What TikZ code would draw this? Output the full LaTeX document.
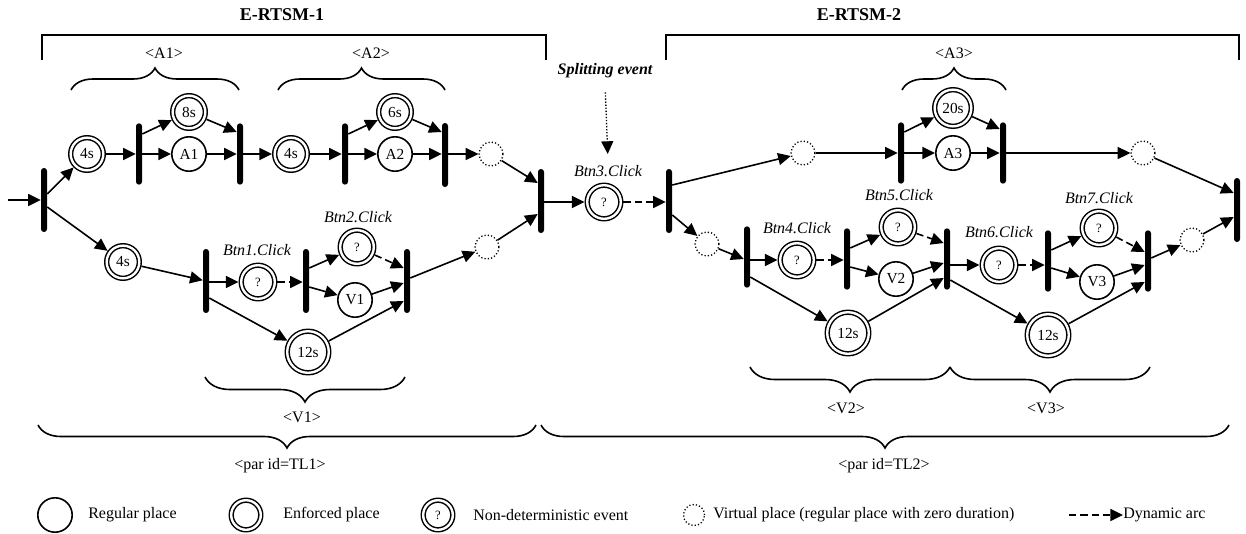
\documentclass[tikz,border=0pt]{standalone}
\usepackage{fontspec}
\setmainfont{Liberation Serif}
\usetikzlibrary{arrows.meta,decorations.pathreplacing,calc}
\begin{document}
\begin{tikzpicture}[x=0.75pt,y=-0.75pt,
  every node/.style={font=\fontsize{12}{14}\selectfont},
  regp/.style={circle,draw,line width=1.2pt,inner sep=0pt,minimum size=25.8pt,font=\fontsize{11.5}{13}\selectfont},
  enf/.style={circle,draw,line width=1.1pt,double,double distance=1.8pt,inner sep=0pt,outer sep=2pt,minimum size=24.5pt,font=\fontsize{11.5}{13}\selectfont},
  qst/.style={enf,minimum size=25.2pt,font=\fontsize{9.5}{11}\selectfont},
  big/.style={minimum size=31.2pt},
  virt/.style={circle,draw,line width=1pt,dash pattern=on 0.9pt off 1.6pt,inner sep=0pt,minimum size=17.9pt},
  tbar/.style={rectangle,fill,inner sep=0pt,minimum width=4.5pt,minimum height=46pt,rounded corners=2.2pt},
  tall/.style={minimum height=48pt},
  flow/.style={line width=1.2pt,-{Triangle[length=9.5pt,width=9pt]}},
  dyn/.style={flow,dash pattern=on 5.5pt off 3pt},
  brc/.style={decorate,decoration={brace,amplitude=#1},line width=1.2pt},
  lbl/.style={font=\fontsize{12}{14}\selectfont\itshape},
  ttl/.style={font=\fontsize{13.5}{16}\selectfont\bfseries},
  legt/.style={anchor=west,inner sep=0pt},
]
\useasboundingbox (0,0) rectangle (1246,533);

% titles and brackets
\node[ttl] (h1) at (282,15) {E-RTSM-1};
\node[ttl] (h2) at (859,15) {E-RTSM-2};
\draw[line width=1.2pt] (42,60) -- (42,35) -- (546,35) -- (546,60);
\draw[line width=1.2pt] (666,60) -- (666,35) -- (1239,35) -- (1239,60);

% braces
\draw[brc=16.5pt] (71,90) -- (239,90);
\draw[brc=16.5pt] (278,90) -- (445,90);
\draw[brc=16.5pt] (902,90) -- (1006,90);
\node (la1) at (164,53) {<A1>};
\node (la2) at (371,53) {<A2>};
\node (la3) at (954,53) {<A3>};
\draw[brc=18.75pt] (405,377) -- (205,377);
\draw[brc=18.75pt] (950,367) -- (750,367);
\draw[brc=18.75pt] (1150,367) -- (950,367);
\node (lv1) at (302,417) {<V1>};
\node (lv2) at (846,408) {<V2>};
\node (lv3) at (1046,408) {<V3>};
\draw[brc=17.25pt] (536,425) -- (38,425);
\draw[brc=17.25pt] (1229,425) -- (541,425);
\node (ltl1) at (280,466) {<par id=TL1>};
\node (ltl2) at (884,466) {<par id=TL2>};

% ---------- E-RTSM-1 ----------
\coordinate (start) at (8,200);
\node[tbar,tall] (t0) at (44,200) {};
\node[enf] (p1) at (87,154) {4s};
\node[tbar] (t1) at (139,154) {};
\node[enf] (p2) at (189,112) {8s};
\node[regp] (a1) at (189,154) {A1};
\node[tbar] (t2) at (240,154) {};
\node[enf] (p3) at (291,154) {4s};
\node[tbar] (t3) at (345,154) {};
\node[enf] (p4) at (395,112) {6s};
\node[regp] (a2) at (395,154) {A2};
\node[tbar,tall] (t4) at (445,155) {};
\node[virt] (v1) at (491,154) {};
\node[tbar,tall] (t5) at (541,201) {};

\node[enf] (p5) at (123,262) {4s};
\node[tbar,tall] (tl1) at (206,281) {};
\node[qst] (b1) at (258,282) {?};
\node[tbar,tall] (tl2) at (306,281) {};
\node[qst] (b2) at (357,247) {?};
\node[regp] (vv1) at (355,300) {V1};
\node[tbar,tall] (tl3) at (407,281) {};
\node[enf,big] (p6) at (308,352) {12s};
\node[virt] (v2) at (487,247) {};

\node[lbl] (l1) at (257,250) {Btn1.Click};
\node[lbl] (l2) at (358,217) {Btn2.Click};

\draw[flow] (start) -- (t0);
\draw[flow] (t0.east|-0,194) -- (p1);
\draw[flow] (t0.east|-0,207) -- (p5);
\draw[flow] (p1) -- (t1);
\draw[flow] (t1.east|-0,134) -- (p2);
\draw[flow] (t1) -- (a1);
\draw[flow] (p2) -- (t2.west|-0,132);
\draw[flow] (a1) -- (t2);
\draw[flow] (t2) -- (p3);
\draw[flow] (p3) -- (t3);
\draw[flow] (t3.east|-0,134) -- (p4);
\draw[flow] (t3) -- (a2);
\draw[flow] (p4) -- (t4.west|-0,132);
\draw[flow] (a2) -- (t4.west|-a2);
\draw[flow] (t4.east|-v1) -- (v1);
\draw[flow] (v1) -- (t5.west|-0,183);

\draw[flow] (p5) -- (tl1);
\draw[flow] (tl1.east|-b1) -- (b1);
\draw[flow] (tl1.east|-0,298) -- (p6);
\draw[dyn] (b1) -- (tl2.west|-b1);
\draw[flow] (tl2.east|-0,268) -- (b2);
\draw[flow] (tl2.east|-0,287) -- (vv1);
\draw[dyn] (b2) -- (tl3.west|-0,268);
\draw[flow] (vv1) -- (tl3.west|-0,283);
\draw[flow] (p6) -- (tl3.west|-0,301);
\draw[flow] (tl3.east|-0,278) -- (v2);
\draw[flow] (v2) -- (t5.west|-0,214);

% ---------- splitting event ----------
\node[qst] (b3) at (604,202) {?};
\node[lbl] (l3) at (608,171) {Btn3.Click};
\node[font=\fontsize{12}{14}\selectfont\bfseries\itshape] (split) at (605,71) {Splitting event};
\draw[line width=1pt,dash pattern=on 1pt off 1.3pt,-{Triangle[length=9.5pt,width=9pt]},shorten <=7pt,shorten >=5pt] (split.south) -- (l3.north);
\node[tbar,tall] (t6) at (669,201) {};
\draw[flow] (t5.east|-b3) -- (b3);
\draw[dyn] (b3) -- (t6.west|-b3);

% ---------- E-RTSM-2 ----------
\node[virt] (v3) at (803,153) {};
\node[tbar] (t7) at (901,153) {};
\node[enf,minimum size=27.5pt] (p7) at (953,108) {20s};
\node[regp] (a3) at (953,153) {A3};
\node[tbar] (t8) at (1003,153) {};
\node[virt] (v4) at (1143,153) {};
\node[tbar,tall] (tf) at (1237,210) {};

\node[virt] (v5) at (707,244) {};
\node[tbar] (t9) at (747,257) {};
\node[qst] (b4) at (797,260) {?};
\node[tbar] (t10) at (847,259) {};
\node[qst] (b5) at (898,227) {?};
\node[regp] (vv2) at (896,279) {V2};
\node[tbar] (t11) at (947,259) {};
\node[enf,big] (p8) at (848,333) {12s};
\node[qst] (b6) at (999,265) {?};
\node[tbar] (t12) at (1048,261) {};
\node[qst] (b7) at (1099,228) {?};
\node[regp] (vv3) at (1097,282) {V3};
\node[tbar] (t13) at (1148,261) {};
\node[enf,big] (p9) at (1048,335) {12s};
\node[virt] (v6) at (1192,240) {};

\node[lbl] (l4) at (797,228) {Btn4.Click};
\node[lbl] (l5) at (899,195) {Btn5.Click};
\node[lbl] (l6) at (999,232) {Btn6.Click};
\node[lbl] (l7) at (1099,198) {Btn7.Click};

\draw[flow] (t6.east|-0,185) -- (v3);
\draw[flow] (t6.east|-0,215) -- (v5);
\draw[flow] (v3) -- (t7);
\draw[flow] (t7.east|-0,132) -- (p7);
\draw[flow] (t7) -- (a3);
\draw[flow] (p7) -- (t8.west|-0,129);
\draw[flow] (a3) -- (t8);
\draw[flow] (t8) -- (v4);
\draw[flow] (v4) -- (tf.west|-0,193);

\draw[flow] (v5) -- (t9.west|-0,259);
\draw[flow] (t9.east|-b4) -- (b4);
\draw[flow] (t9.east|-0,277) -- (p8);
\draw[dyn] (b4) -- (t10.west|-b4);
\draw[flow] (t10.east|-0,248) -- (b5);
\draw[flow] (t10.east|-0,267) -- (vv2);
\draw[dyn] (b5) -- (t11.west|-0,243);
\draw[flow] (vv2) -- (t11.west|-0,263);
\draw[flow] (p8) -- (t11.west|-0,278);
\draw[flow] (t11.east|-b6) -- (b6);
\draw[flow] (t11.east|-0,280) -- (p9);
\draw[dyn] (b6) -- (t12.west|-b6);
\draw[flow] (t12.east|-0,250) -- (b7);
\draw[flow] (t12.east|-0,268) -- (vv3);
\draw[dyn] (b7) -- (t13.west|-0,252);
\draw[flow] (vv3) -- (t13.west|-0,265);
\draw[flow] (p9) -- (t13.west|-0,282);
\draw[flow] (t13.east|-0,258) -- (v6);
\draw[flow] (v6) -- (tf.west|-0,217);

% ---------- legend ----------
\node[regp] (lg1) at (55,515) {};
\node[legt] (lt1) at (88,515) {Regular place};
\node[enf,minimum size=22.2pt] (lg2) at (246,515) {};
\node[legt] (lt2) at (283,515) {Enforced place};
\node[qst,minimum size=22.2pt] (lg3) at (438,515) {?};
\node[legt] (lt3) at (473,515) {Non-deterministic event};
\node[virt,minimum size=15.8pt] (lg4) at (694,515) {};
\node[legt] (lt4) at (713,515) {Virtual place (regular place with zero duration)};
\coordinate (lg5) at (1069,515);
\node[legt] (lt5) at (1123,515) {Dynamic arc};
\draw[dyn] (lg5) -- (lt5.west);
\end{tikzpicture}
\end{document}
